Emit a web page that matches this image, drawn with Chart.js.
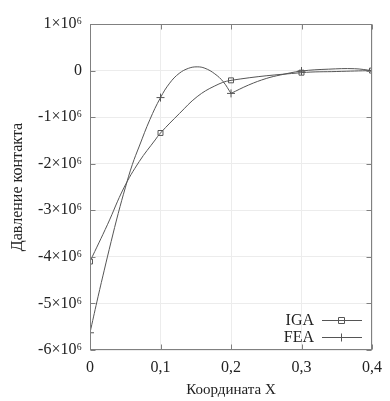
<!DOCTYPE html>
<html>
<head>
<meta charset="utf-8">
<script src="https://cdn.jsdelivr.net/npm/chart.js@4/dist/chart.umd.min.js"></script>
<style>
  html, body { margin: 0; background: #fff; }
  #wrap { width: 390px; height: 401px; }
</style>
</head>
<body>
<div id="wrap"><canvas id="chart" width="390" height="401"></canvas></div>
<script>
// nodes (markers)
const nodeX = [0, 0.1, 0.2, 0.3, 0.4];
const igaNodes = [-4.1e6, -1.34e6, -0.21e6, -0.045e6, 0];
const feaNodes = [-5.63e6, -0.58e6, -0.49e6, -0.01e6, 0];

// curves
const igaCurveX = [0, 0.025, 0.048, 0.07, 0.0924, 0.1, 0.127, 0.152, 0.177, 0.2, 0.3, 0.35, 0.4];
const igaCurveY = [-4.1e6, -3.3e6, -2.52e6, -1.95e6, -1.49e6, -1.34e6, -0.92e6, -0.56e6, -0.33e6, -0.21e6, -0.045e6, -0.02e6, 0];

// FEA has a kink at x = 0.2, so it is kept in two pieces
const feaLeftX = [0, 0.01, 0.02, 0.03, 0.04, 0.05, 0.06, 0.07, 0.085, 0.1, 0.113, 0.1265, 0.14, 0.152, 0.163, 0.177, 0.189, 0.2];
const feaLeftY = [-5.63e6, -4.95e6, -4.3e6, -3.67e6, -3.07e6, -2.52e6, -2.02e6, -1.62e6, -1.05e6, -0.58e6, -0.27e6, -0.06e6, 0.05e6, 0.08e6, 0.05e6, -0.07e6, -0.24e6, -0.49e6];
const feaRightX = [0.2, 0.225, 0.25, 0.27, 0.3, 0.338, 0.375, 0.4];
const feaRightY = [-0.49e6, -0.31e6, -0.17e6, -0.095e6, -0.01e6, 0.03e6, 0.04e6, 0];

const legendItems = ["IGA", "FEA"];

const LINE = "#555555";
const TEXT = "#222222";

Chart.defaults.font.family = "'Liberation Serif', 'DejaVu Serif', serif";
Chart.defaults.color = TEXT;

function pts(xs, ys) {
  return xs.map((x, i) => ({ x, y: ys[i] }));
}

function curve(xs, ys) {
  return {
    data: pts(xs, ys),
    showLine: true,
    borderColor: LINE,
    borderWidth: 1,
    pointRadius: 0,
    tension: 0.4,
    fill: false,
  };
}

function markers(ys, style) {
  return {
    data: pts(nodeX, ys),
    showLine: false,
    pointStyle: style,
    pointRadius: style === "rect" ? 3.5 : 4,
    pointBorderColor: LINE,
    pointBackgroundColor: "rgba(255,255,255,0)",
    pointBorderWidth: 1,
  };
}

// gnuplot-like frame with inward ticks
const framePlugin = {
  id: "frame",
  afterDatasetsDraw(chart) {
    const { ctx, chartArea: a, scales } = chart;
    const L = Math.round(a.left) + 0.5, R = Math.round(a.right) - 0.5;
    const T = Math.round(a.top) + 0.5, B = Math.round(a.bottom) - 0.5;
    ctx.save();
    ctx.strokeStyle = "#808080";
    ctx.lineWidth = 1;
    ctx.strokeRect(L, T, R - L, B - T);
    ctx.beginPath();
    scales.y.ticks.forEach((t) => {
      const y = Math.round(scales.y.getPixelForValue(t.value)) + 0.5;
      ctx.moveTo(L, y); ctx.lineTo(L + 5, y);
      ctx.moveTo(R, y); ctx.lineTo(R - 5, y);
    });
    scales.x.ticks.forEach((t) => {
      const x = Math.round(scales.x.getPixelForValue(t.value)) + 0.5;
      ctx.moveTo(x, B); ctx.lineTo(x, B - 5);
      ctx.moveTo(x, T); ctx.lineTo(x, T + 5);
    });
    ctx.stroke();
    ctx.restore();
  },
};

const legendPlugin = {
  id: "gpLegend",
  afterDraw(chart) {
    const { ctx } = chart;
    ctx.save();
    ctx.font = "16px 'Liberation Serif', 'DejaVu Serif', serif";
    ctx.fillStyle = TEXT;
    ctx.textAlign = "right";
    ctx.textBaseline = "middle";
    ctx.strokeStyle = LINE;
    ctx.lineWidth = 1;
    legendItems.forEach((label, i) => {
      const y = 320 + i * 17;
      ctx.fillText(label, 314, y + 1);
      ctx.beginPath();
      ctx.moveTo(322, y + 0.5);
      ctx.lineTo(362, y + 0.5);
      if (i === 0) {
        ctx.rect(338.5, y - 2.5, 6, 6);
      } else {
        ctx.moveTo(341.5, y - 3.5);
        ctx.lineTo(341.5, y + 4.5);
      }
      ctx.stroke();
    });
    ctx.restore();
  },
};

function yLabel(v) {
  if (v === 0) return "0";
  return Math.round(v / 1e6) + "×10\u2076";
}

function xLabel(v) {
  if (Math.abs(v) < 1e-9) return "0";
  return v.toFixed(1).replace(".", ",");
}

new Chart(document.getElementById("chart"), {
  type: "scatter",
  data: {
    datasets: [
      curve(igaCurveX, igaCurveY),
      curve(feaLeftX, feaLeftY),
      curve(feaRightX, feaRightY),
      markers(igaNodes, "rect"),
      markers(feaNodes, "cross"),
    ],
  },
  options: {
    responsive: false,
    animation: false,
    layout: { padding: { top: 24, right: 10, left: 0, bottom: 0 } },
    plugins: { legend: { display: false }, tooltip: { enabled: false } },
    scales: {
      x: {
        type: "linear",
        min: 0,
        max: 0.4,
        afterFit(s) { s.height = 51; },
        grid: { color: "#ececec", drawTicks: false },
        border: { display: false },
        ticks: { stepSize: 0.1, padding: 8, font: { size: 16 }, callback: xLabel },
        title: { display: true, text: "Координата X", font: { size: 15 }, padding: { top: 2, bottom: 2 } },
      },
      y: {
        type: "linear",
        min: -6e6,
        max: 1e6,
        afterFit(s) { s.width = 90; },
        grid: { color: "#ececec", drawTicks: false },
        border: { display: false },
        ticks: { stepSize: 1e6, padding: 8, font: { size: 16 }, callback: yLabel },
        title: { display: true, text: "Давление контакта", font: { size: 16 }, padding: { top: 8, bottom: 8 } },
      },
    },
  },
  plugins: [framePlugin, legendPlugin],
});
</script>
</body>
</html>
